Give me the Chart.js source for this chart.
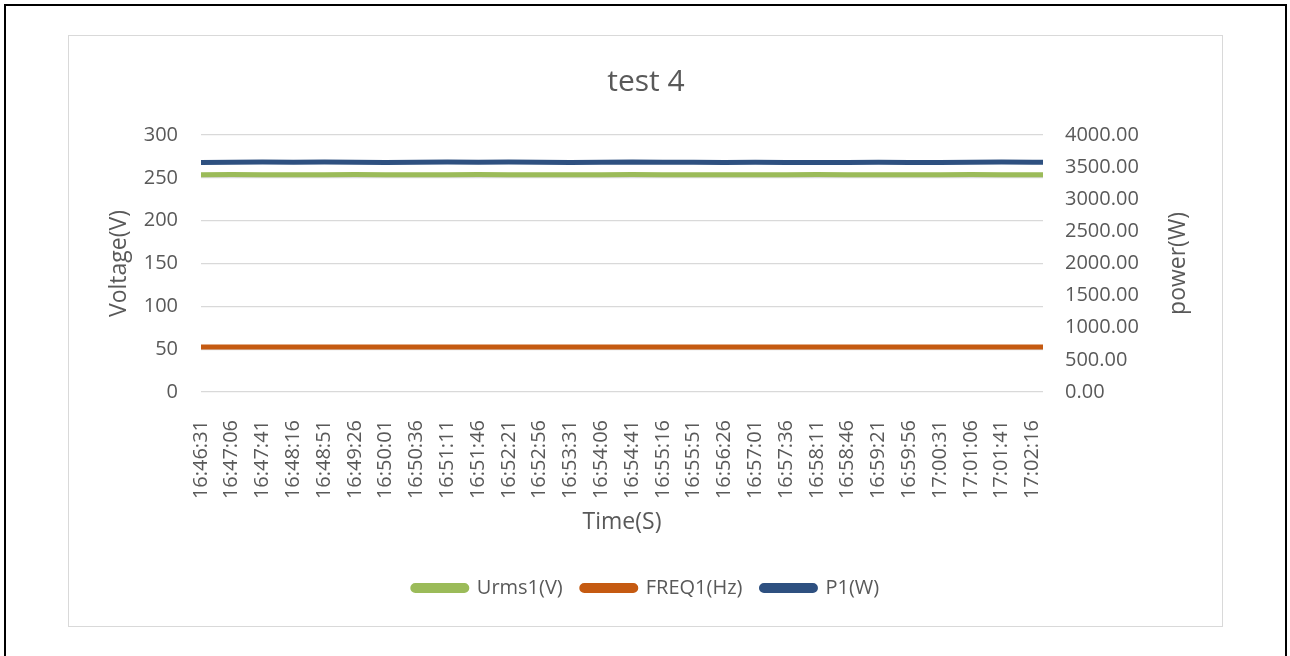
<!DOCTYPE html>
<html>
<head>
<meta charset="utf-8">
<script src="https://cdn.jsdelivr.net/npm/chart.js@4"></script>
<style>
  html, body { margin: 0; padding: 0; background: #fff; }
  body { width: 1290px; height: 656px; position: relative; overflow: hidden; }
  #frame { position: absolute; left: 4px; top: 4px; width: 1279px; height: 700px;
           border: 2px solid #000; border-bottom: none; }
  #box { position: absolute; left: 68px; top: 35px; width: 1153px; height: 590px;
         border: 1.5px solid #d9d9d9; }
  #chart { position: absolute; left: 70px; top: 37px; }
</style>
</head>
<body>
<div id="frame"></div>
<div id="box"></div>
<canvas id="chart" width="1152" height="589"></canvas>
<script>
// x axis tick labels (every 35 s)
const tickLabels = ['16:46:31', '16:47:06', '16:47:41', '16:48:16', '16:48:51', '16:49:26', '16:50:01',
  '16:50:36', '16:51:11', '16:51:46', '16:52:21', '16:52:56', '16:53:31', '16:54:06', '16:54:41',
  '16:55:16', '16:55:51', '16:56:26', '16:57:01', '16:57:36', '16:58:11', '16:58:46', '16:59:21',
  '16:59:56', '17:00:31', '17:01:06', '17:01:41', '17:02:16'];
// sample times: the labelled times plus the last sample
const sampleTimes = [...tickLabels, '17:02:28'];

// series values
const urms = [253.7, 253.8, 253.6, 253.7, 253.7, 253.8, 253.7, 253.6, 253.7, 253.8, 253.7, 253.7, 253.6, 253.7, 253.8,
  253.7, 253.7, 253.6, 253.7, 253.7, 253.8, 253.7, 253.6, 253.7, 253.7, 253.8, 253.7, 253.7, 253.7];
const freq = [52.4, 52.4, 52.4, 52.4, 52.4, 52.4, 52.4, 52.4, 52.4, 52.4, 52.4, 52.4, 52.4, 52.4, 52.4,
  52.4, 52.4, 52.4, 52.4, 52.4, 52.4, 52.4, 52.4, 52.4, 52.4, 52.4, 52.4, 52.4, 52.4];
const p1 = [3571, 3575, 3578, 3576, 3580, 3574, 3573, 3577, 3579, 3575, 3578, 3576, 3573, 3574, 3581,
  3577, 3574, 3572, 3575, 3573, 3571, 3572, 3574, 3573, 3572, 3574, 3578, 3576, 3575];

const toSec = t => {
  const [h, m, s] = t.split(':').map(Number);
  return h * 3600 + m * 60 + s;
};
const points = vals => vals.map((v, i) => ({ x: toSec(sampleTimes[i]), y: v }));

Chart.defaults.font.family = '"Open Sans", sans-serif';
Chart.defaults.color = '#595959';

// secondary axis title, read bottom to top like the Excel one
const rightTitle = {
  id: 'rightTitle',
  afterDraw(chart) {
    const { ctx, chartArea } = chart;
    ctx.save();
    ctx.translate(chart.scales.y1.right - 44, (chartArea.top + chartArea.bottom) / 2);
    ctx.rotate(-Math.PI / 2);
    ctx.font = '23px "Open Sans", sans-serif';
    ctx.fillStyle = '#595959';
    ctx.textAlign = 'center';
    ctx.textBaseline = 'middle';
    ctx.fillText('power(W)', 0, 0);
    ctx.restore();
  }
};

const line = (label, data, color, axis) => ({
  label: label,
  data: points(data),
  borderColor: color,
  backgroundColor: color,
  borderWidth: 5,
  borderCapStyle: 'round',
  pointRadius: 0,
  tension: 0,
  yAxisID: axis
});

new Chart(document.getElementById('chart'), {
  type: 'line',
  data: {
    datasets: [
      line('Urms1(V)', urms, '#9bbb59', 'y'),
      line('FREQ1(Hz)', freq, '#c55a11', 'y'),
      line('P1(W)', p1, '#2e5080', 'y1')
    ]
  },
  options: {
    responsive: false,
    devicePixelRatio: 1,
    animation: false,
    layout: { padding: { left: 0, right: 0, top: 0, bottom: 18 } },
    plugins: {
      title: {
        display: true,
        text: 'test 4',
        font: { size: 30, weight: 'normal' },
        color: '#595959',
        padding: { top: 27, bottom: 35 }
      },
      legend: {
        position: 'bottom',
        labels: {
          boxWidth: 54,
          boxHeight: 5,
          useBorderRadius: true,
          borderRadius: 2.5,
          padding: 19,
          font: { size: 20 },
          color: '#595959'
        }
      },
      tooltip: { enabled: false }
    },
    scales: {
      x: {
        type: 'linear',
        min: toSec(sampleTimes[0]),
        max: toSec(sampleTimes[sampleTimes.length - 1]),
        afterBuildTicks: s => { s.ticks = tickLabels.map(t => ({ value: toSec(t) })); },
        afterFit: s => { s.height = 167; },
        grid: { display: false },
        border: { display: false },
        ticks: {
          autoSkip: false,
          minRotation: 90,
          maxRotation: 90,
          padding: 20,
          font: { size: 20 },
          callback: (v, i) => tickLabels[i]
        },
        title: {
          display: true,
          text: 'Time(S)',
          font: { size: 23 },
          padding: { top: 4, bottom: 23 }
        }
      },
      y: {
        position: 'left',
        min: 0,
        max: 300,
        afterFit: s => { s.width = 131; },
        grid: { color: '#d9d9d9', lineWidth: 1.3, drawTicks: false },
        border: { display: false },
        ticks: { stepSize: 50, padding: 23, font: { size: 20 } },
        title: { display: true, text: 'Voltage(V)', font: { size: 23 }, padding: { top: 36 } }
      },
      y1: {
        position: 'right',
        min: 0,
        max: 4000,
        afterFit: s => { s.width = 179; },
        grid: { drawOnChartArea: false, drawTicks: false },
        border: { display: false },
        ticks: {
          stepSize: 500,
          padding: 22,
          font: { size: 20 },
          callback: v => v.toFixed(2)
        }
      }
    }
  },
  plugins: [rightTitle]
});
</script>
</body>
</html>
